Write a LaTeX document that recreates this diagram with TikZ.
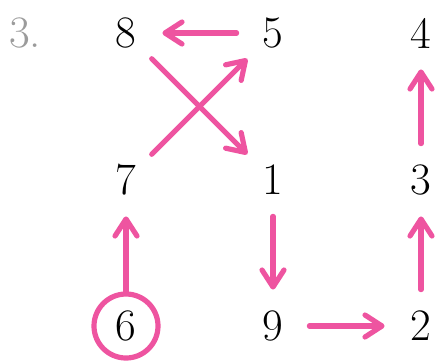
\documentclass[tikz,border=0pt]{standalone}
\usepackage{xcolor}
\usepackage{tikz}
\usetikzlibrary{arrows.meta}
\definecolor{hotpink}{RGB}{238,84,160}
\definecolor{softgray}{RGB}{155,155,155}
\tikzset{
  num/.style={circle,inner sep=0pt,minimum size=36pt,font=\fontsize{22.5}{27}\selectfont},
  start/.style={num,draw=hotpink,line width=2.6pt,minimum size=32pt},
  move/.style={-{Straight Barb[round,length=8.5pt,width=11pt]},line width=2.6pt,draw=hotpink,line cap=round}
}

\begin{document}
\begin{tikzpicture}[x=0.5pt,y=-0.5pt]
\useasboundingbox (0,0) rectangle (438,360);

\node[font=\fontsize{22.5}{27}\selectfont,text=softgray] (label) at (25,33) {3.};

% top row
\node[num] (n8) at (126,33) {8};
\node[num] (n5) at (273,33) {5};
\node[num] (n4) at (421,33) {4};

% middle row
\node[num] (n7) at (126,180) {7};
\node[num] (n1) at (273,180) {1};
\node[num] (n3) at (421,180) {3};

% bottom row
\node[start] (n6) at (126,326) {6};
\node[num] (n9) at (273,326) {9};
\node[num] (n2) at (421,326) {2};

\draw[move] (n6) -- (n7);
\draw[move] (n7) -- (n5);
\draw[move] (n5) -- (n8);
\draw[move] (n8) -- (n1);
\draw[move] (n1) -- (n9);
\draw[move] (n9) -- (n2);
\draw[move] (n2) -- (n3);
\draw[move] (n3) -- (n4);

\end{tikzpicture}
\end{document}
